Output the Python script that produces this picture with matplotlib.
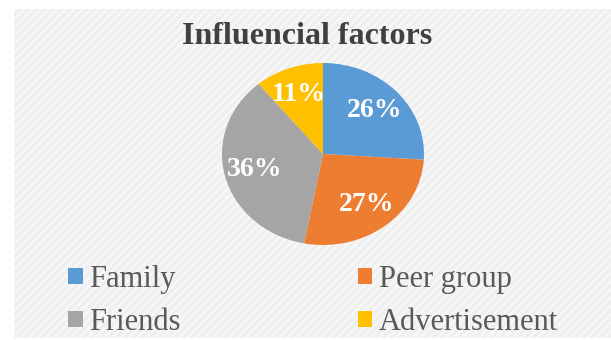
import matplotlib
matplotlib.use('Agg')
import matplotlib.pyplot as plt
from matplotlib.patches import Rectangle

categories = ['Family', 'Peer group', 'Friends', 'Advertisement']
values = [26, 27, 36, 11]
colors = ['#5B9BD5', '#ED7D31', '#A5A5A5', '#FFC000']
title = 'Influencial factors'

W, H = 611, 340
plt.rcParams['hatch.linewidth'] = 2.0
fig = plt.figure(figsize=(W / 100, H / 100), dpi=100)
fig.patch.set_facecolor('white')

bg = Rectangle((14 / W, 2 / H), (W - 14) / W, (H - 11) / H, transform=fig.transFigure,
               facecolor='#efefef', edgecolor='#f7f7f7', hatch='////', linewidth=0, zorder=-10)
fig.patches.append(bg)

# pie axes (elliptical pie, as in the reference)
cx, cy, rx, ry = 323, 154, 101, 91
lim = 1.05
ax = fig.add_axes([(cx - rx * lim) / W, (H - cy - ry * lim) / H, 2 * rx * lim / W, 2 * ry * lim / H])
ax.patch.set_alpha(0)
wedges, texts, autotexts = ax.pie(
    values, colors=colors, startangle=90, counterclock=False,
    autopct='%1.0f%%', pctdistance=0.7,
    wedgeprops=dict(linewidth=0),
    textprops=dict(color='white', fontsize=20, fontweight='bold', family='Liberation Serif'))
ax.set_aspect('auto')
ax.set_xlim(-lim, lim)
ax.set_ylim(-lim, lim)
ax.axis('off')

fig.text(307 / W, 1 - 36 / H, title, ha='center', va='center', fontsize=23,
         fontweight='bold', family='Liberation Serif', color='#404040')

order = [0, 2, 1, 3]
leg = fig.legend([wedges[i] for i in order], [categories[i] for i in order],
                 ncol=2, loc='center', bbox_to_anchor=(313 / W, 1 - 301 / H),
                 frameon=False, borderpad=0, handlelength=0.48, handleheight=0.42,
                 handletextpad=0.2, columnspacing=5.8, labelspacing=0.45,
                 prop=dict(family='Liberation Serif', size=22))
for t in leg.get_texts():
    t.set_color('#595959')

fig.savefig('out.png', dpi=100)
